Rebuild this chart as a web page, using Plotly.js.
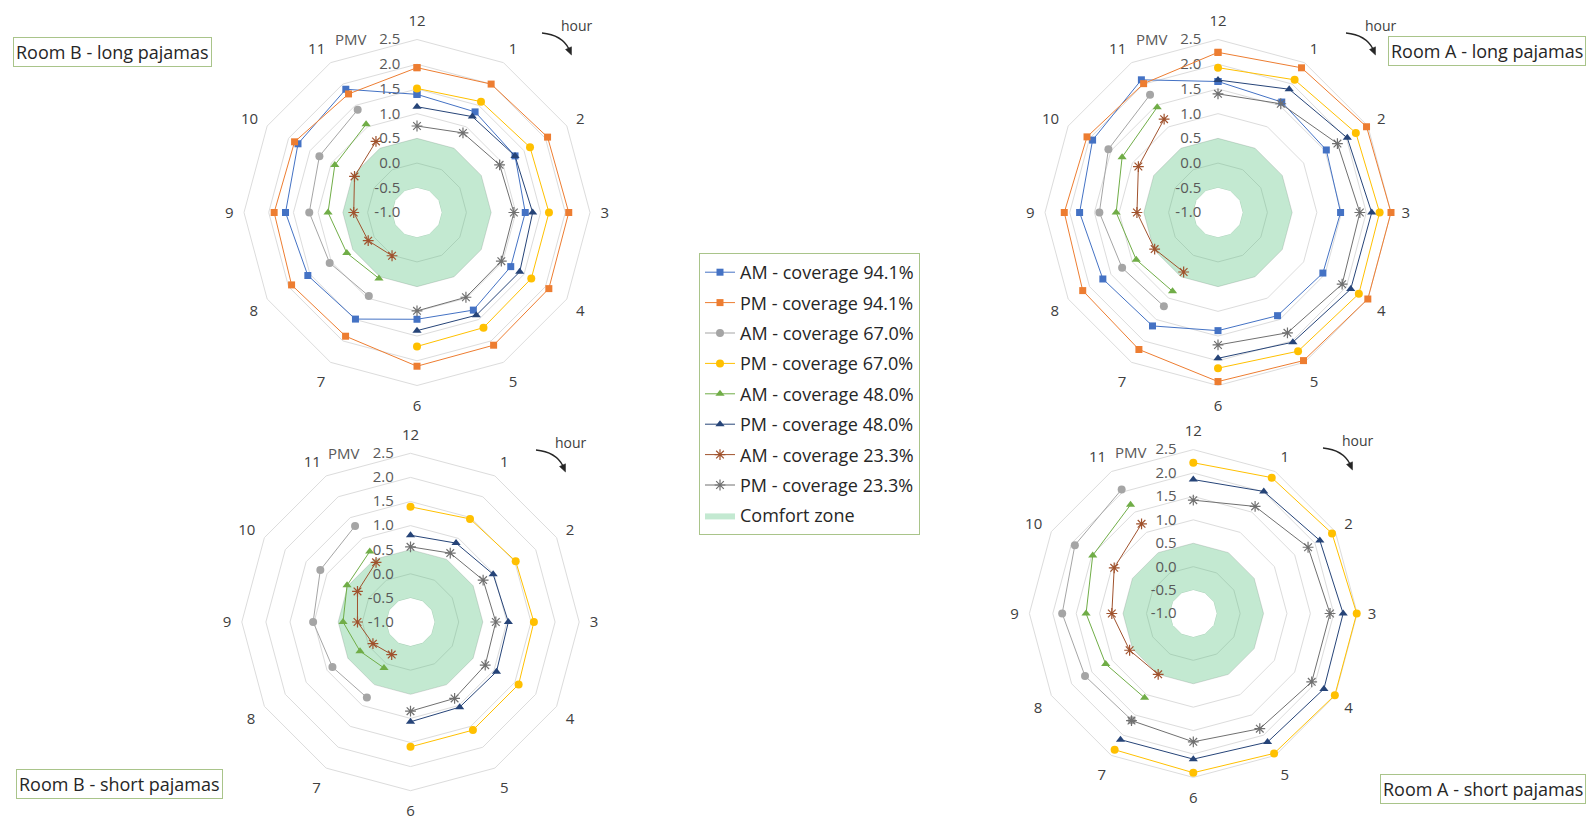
<!DOCTYPE html>
<html>
<head>
<meta charset="utf-8">
<script src="https://cdn.plot.ly/plotly-3.0.1.min.js"></script>
<style>html,body{margin:0;padding:0;background:#fff;}#chart{width:1594px;height:824px;}</style>
</head>
<body>
<div id="chart"></div>
<script>
// ---------- categories ----------
const hours = ['12','1','2','3','4','5','6','7','8','9','10','11'];
const radialTicks = [-1.0,-0.5,0.0,0.5,1.0,1.5,2.0,2.5];
const radialTickText = ['-1.0','-0.5','0.0','0.5','1.0','1.5','2.0','2.5'];

// ---------- series names ----------
const seriesNames = ['AM - coverage 94.1%','PM - coverage 94.1%','AM - coverage 67.0%','PM - coverage 67.0%',
                     'AM - coverage 48.0%','PM - coverage 48.0%','AM - coverage 23.3%','PM - coverage 23.3%'];
const comfortName = 'Comfort zone';

// ---------- comfort zone (PMV -0.5 .. 0.5) ----------
const comfortUpper = [0.5,0.5,0.5,0.5,0.5,0.5,0.5,0.5,0.5,0.5,0.5,0.5];
const comfortLower = [-0.5,-0.5,-0.5,-0.5,-0.5,-0.5,-0.5,-0.5,-0.5,-0.5,-0.5,-0.5];

// ---------- Room B - long pajamas (order: 12,1,...,11) ----------
const bLong_am941 = [1.39,1.35,1.29,1.19,1.19,1.28,1.16,1.49,1.55,1.66,1.78,1.88];
const bLong_pm941 = [1.93,2.00,2.05,2.07,2.08,2.10,2.11,1.89,1.93,1.89,1.86,1.77];
const bLong_am670 = [null,null,null,null,null,null,null,0.95,1.04,1.18,1.28,1.40];
const bLong_pm670 = [1.51,1.59,1.64,1.67,1.67,1.69,1.71,null,null,null,null,null];
const bLong_am480 = [null,null,null,null,null,null,null,0.54,0.64,0.80,0.92,1.06];
const bLong_pm480 = [1.14,1.24,1.29,1.34,1.40,1.40,1.39,null,null,null,null,null];
const bLong_am233 = [null,null,null,null,null,null,null,0.01,0.14,0.28,0.46,0.66];
const bLong_pm233 = [0.75,0.86,0.93,0.96,0.97,0.98,0.99,null,null,null,null,null];

// ---------- Room A - long pajamas ----------
const aLong_am941 = [1.65,1.58,1.53,1.48,1.45,1.41,1.39,1.65,1.69,1.80,1.93,2.10];
const aLong_pm941 = [2.24,2.38,2.47,2.50,2.50,2.46,2.42,2.20,2.16,2.11,2.06,2.01];
const aLong_am670 = [null,null,null,null,null,null,null,1.19,1.24,1.40,1.56,1.75];
const aLong_pm670 = [1.93,2.10,2.22,2.27,2.29,2.24,2.15,null,null,null,null,null];
const aLong_am480 = [null,null,null,null,null,null,null,0.84,0.91,1.06,1.24,1.46];
const aLong_pm480 = [1.68,1.88,2.02,2.11,2.10,2.03,1.95,null,null,null,null,null];
const aLong_am233 = [null,null,null,null,null,null,null,0.39,0.48,0.64,0.86,1.18];
const aLong_pm233 = [1.40,1.54,1.79,1.87,1.90,1.81,1.68,null,null,null,null,null];

// ---------- Room B - short pajamas ----------
const bShort_am670 = [null,null,null,null,null,null,null,0.81,0.87,1.02,1.16,1.30];
const bShort_pm670 = [1.39,1.47,1.52,1.56,1.59,1.59,1.59,null,null,null,null,null];
const bShort_am480 = [null,null,null,null,null,null,null,0.10,0.21,0.40,0.52,0.69];
const bShort_pm480 = [0.80,0.89,0.98,1.03,1.06,1.04,1.07,null,null,null,null,null];
const bShort_am233 = [null,null,null,null,null,null,null,-0.22,-0.10,0.10,0.27,0.43];
const bShort_pm233 = [0.56,0.65,0.74,0.77,0.79,0.83,0.85,null,null,null,null,null];

// ---------- Room A - short pajamas ----------
const aShort_am670 = [null,null,null,null,null,null,null,1.63,1.67,1.80,1.92,2.06];
const aShort_pm670 = [2.22,2.35,2.42,2.49,2.49,2.45,2.40,2.36,null,null,null,null];
const aShort_am480 = [null,null,null,null,null,null,null,1.08,1.16,1.29,1.48,1.68];
const aShort_pm480 = [1.86,2.01,2.12,2.20,2.22,2.17,2.11,2.11,null,null,null,null];
const aShort_am233 = [null,null,null,null,null,null,null,0.50,0.57,0.74,0.95,1.21];
const aShort_pm233 = [1.42,1.64,1.83,1.92,1.92,1.84,1.74,1.64,null,null,null,null];

const roomTitles = ['Room B - long pajamas','Room A - long pajamas','Room B - short pajamas','Room A - short pajamas'];

// ---------- styles ----------
const W = 1594, H = 824;
const FONT = '"Open Sans", "Noto Sans", sans-serif';
const styles = [
  {color:'#4472C4', symbol:'square', size:7, closed:true},
  {color:'#ED7D31', symbol:'square', size:7, closed:true},
  {color:'#A5A5A5', symbol:'circle', size:8},
  {color:'#FFC000', symbol:'circle', size:8},
  {color:'#70AD47', symbol:'triangle-up', size:8},
  {color:'#264478', symbol:'triangle-up', size:8},
  {color:'#A0522D', symbol:'asterisk-open', size:9},
  {color:'#707070', symbol:'asterisk-open', size:9}
];

// grid subplot (linear polygon grid) + overlay subplot for the series
const rooms = [
  {grid:'polar',  sub:'polar5', data:[bLong_am941,bLong_pm941,bLong_am670,bLong_pm670,bLong_am480,bLong_pm480,bLong_am233,bLong_pm233]},
  {grid:'polar2', sub:'polar6', data:[aLong_am941,aLong_pm941,aLong_am670,aLong_pm670,aLong_am480,aLong_pm480,aLong_am233,aLong_pm233]},
  {grid:'polar3', sub:'polar7', data:[null,null,bShort_am670,bShort_pm670,bShort_am480,bShort_pm480,bShort_am233,bShort_pm233]},
  {grid:'polar4', sub:'polar8', data:[null,null,aShort_am670,aShort_pm670,aShort_am480,aShort_pm480,aShort_am233,aShort_pm233]}
];

const traces = [];
rooms.forEach((room, ri) => {
  traces.push({
    type:'scatterpolar', subplot:room.grid, mode:'lines', fill:'toself',
    r:comfortUpper.concat([comfortUpper[0]]), theta:hours.concat([hours[0]]),
    line:{width:0, color:'rgba(0,0,0,0)'}, fillcolor:'rgba(80,190,120,0.34)',
    name:comfortName, legendgroup:'comfort', showlegend:ri===0, legendrank:9, hoverinfo:'skip'
  });
  traces.push({
    type:'scatterpolar', subplot:room.grid, mode:'lines', fill:'toself',
    r:comfortLower.concat([comfortLower[0]]), theta:hours.concat([hours[0]]),
    line:{width:0, color:'rgba(0,0,0,0)'}, fillcolor:'#ffffff',
    name:'hole', showlegend:false, hoverinfo:'skip'
  });
});
rooms.forEach((room, ri) => {
  room.data.forEach((vals, si) => {
    if (!vals) return;
    const st = styles[si];
    const r = st.closed ? vals.concat([vals[0]]) : vals.slice();
    const th = st.closed ? hours.concat([hours[0]]) : hours.slice();
    const isAst = st.symbol.indexOf('asterisk') === 0;
    traces.push({
      type:'scatterpolar', subplot:room.sub, mode:'lines+markers',
      r:r, theta:th, name:seriesNames[si], legendgroup:'s'+si, showlegend:ri===0, legendrank:si+1,
      cliponaxis:false, connectgaps:false,
      line:{color:st.color, width:1},
      marker:{symbol:st.symbol, size:st.size, color:st.color,
              line:{color:st.color, width:isAst?1.2:0}}
    });
  });
});

// ---------- subplot geometry (pixel centres & radii) ----------
const geo = [
  {cx:417,   cy:212.5, R:173},
  {cx:1218,  cy:212.5, R:173},
  {cx:410.5, cy:622,   R:168.7},
  {cx:1193.3,cy:613.5, R:163.9}
];
function dom(g){
  return {x:[(g.cx-g.R)/W,(g.cx+g.R)/W], y:[1-(g.cy+g.R)/H, 1-(g.cy-g.R)/H]};
}
function gridPolar(g){
  return {
    domain:dom(g), bgcolor:'rgba(0,0,0,0)', gridshape:'linear',
    radialaxis:{range:[-1,2.5], tickvals:radialTicks, ticktext:radialTickText, angle:90, side:'counterclockwise',
      tickangle:90, showline:false, gridcolor:'#dcdcdc', gridwidth:1, ticks:'outside', ticklen:11,
      tickcolor:'rgba(0,0,0,0)', tickfont:{family:FONT, size:15, color:'#595959'}},
    angularaxis:{type:'category', categoryarray:hours, direction:'clockwise', rotation:90, showgrid:false,
      showline:true, linecolor:'#dcdcdc', linewidth:1, ticks:'outside', ticklen:7, tickcolor:'rgba(0,0,0,0)',
      tickfont:{family:FONT, size:15, color:'#404040'}}
  };
}
function dataPolar(g){
  return {
    domain:dom(g), bgcolor:'rgba(0,0,0,0)', gridshape:'circular',
    radialaxis:{range:[-1,2.5], angle:90, visible:false, showgrid:false},
    angularaxis:{type:'category', categoryarray:hours, direction:'clockwise', rotation:90, visible:false, showgrid:false}
  };
}

function P(x,y){ return (x/W).toFixed(5)+','+(1-y/H).toFixed(5); }

const annotations = [];
const shapes = [];
// titles
const titlePos = [[112.5,51.5],[1487,51],[120,784],[1483,789]];
roomTitles.forEach((t,i)=>{
  annotations.push({xref:'paper', yref:'paper', x:titlePos[i][0]/W, y:1-titlePos[i][1]/H, text:t, showarrow:false,
    font:{family:FONT, size:18, color:'#262626'}, bgcolor:'#ffffff', bordercolor:'#a9c48a', borderwidth:1, borderpad:2,
    xanchor:'center', yanchor:'middle'});
});
// PMV labels
const pmvPos = [[351,39],[1152,39],[344,453],[1131,452]];
pmvPos.forEach(p=>annotations.push({xref:'paper', yref:'paper', x:p[0]/W, y:1-p[1]/H, text:'PMV', showarrow:false,
  font:{family:FONT, size:15, color:'#595959'}, xanchor:'center', yanchor:'middle'}));
// hour labels with curved arrow
const hourPos = [[559,25],[1363,25],[553,442],[1340,440]];
hourPos.forEach(p=>{
  const tx=p[0], ty=p[1];
  annotations.push({xref:'paper', yref:'paper', x:tx/W, y:1-ty/H, text:'hour', showarrow:false,
    font:{family:FONT, size:14, color:'#404040'}, xanchor:'left', yanchor:'middle'});
  const sx=tx-17, sy=ty+8;
  shapes.push({type:'path', xref:'paper', yref:'paper', layer:'above',
    path:'M'+P(sx,sy)+' Q'+P(sx+20,sy+2)+' '+P(sx+27,sy+16), line:{color:'#262626', width:1.3}});
  shapes.push({type:'path', xref:'paper', yref:'paper', layer:'above',
    path:'M'+P(sx+29.5,sy+22)+' L'+P(sx+23.5,sy+16.5)+' L'+P(sx+29.5,sy+13.8)+' Z',
    line:{color:'#262626', width:0.5}, fillcolor:'#262626'});
});

const layout = {
  width:W, height:H, margin:{l:0,r:0,t:0,b:0}, paper_bgcolor:'#ffffff',
  font:{family:FONT, color:'#404040'},
  polar:gridPolar(geo[0]), polar2:gridPolar(geo[1]), polar3:gridPolar(geo[2]), polar4:gridPolar(geo[3]),
  polar5:dataPolar(geo[0]), polar6:dataPolar(geo[1]), polar7:dataPolar(geo[2]), polar8:dataPolar(geo[3]),
  showlegend:true,
  legend:{x:699/W, y:1-253/H, xanchor:'left', yanchor:'top', bgcolor:'#ffffff', bordercolor:'#a9c48a', borderwidth:1,
    font:{family:FONT, size:18, color:'#262626'}, tracegroupgap:4, itemwidth:30},
  annotations:annotations, shapes:shapes
};

Plotly.newPlot('chart', traces, layout, {displayModeBar:false, staticPlot:true});
</script>
</body>
</html>
